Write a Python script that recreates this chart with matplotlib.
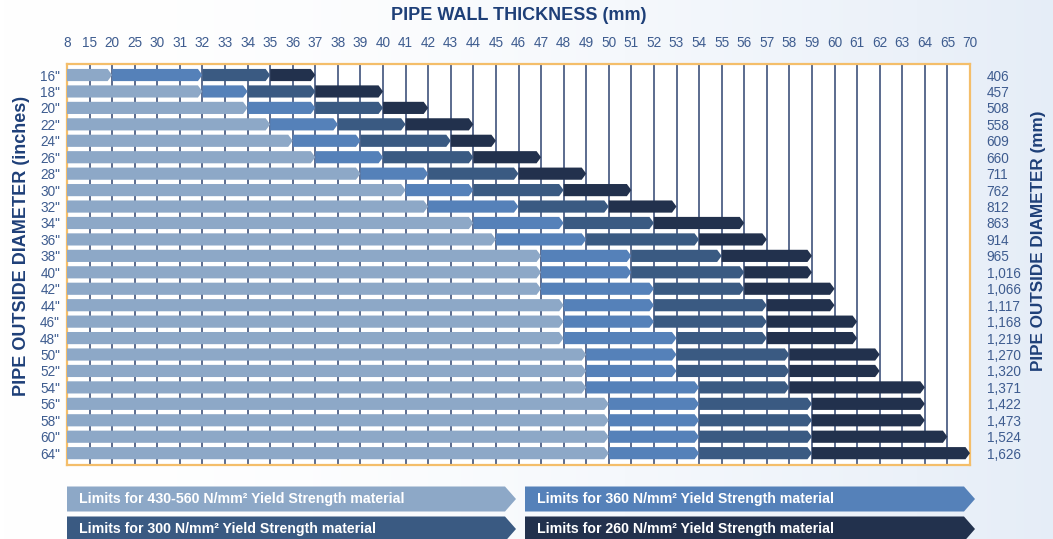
import numpy as np
import matplotlib
matplotlib.use('Agg')
import matplotlib.pyplot as plt
from matplotlib.patches import Polygon

plt.rcParams['font.family'] = ['Liberation Sans', 'DejaVu Sans']

# ── Data ──────────────────────────────────────────────────────────────
# wall thickness axis is categorical: ticks are evenly spaced
thickness_ticks = ['8', '15', '20', '25', '30', '31', '32', '33', '34', '35',
                   '36', '37', '38', '39', '40', '41', '42', '43', '44', '45',
                   '46', '47', '48', '49', '50', '51', '52', '53', '54', '55',
                   '56', '57', '58', '59', '60', '61', '62', '63', '64', '65', '70']
od_inches = ['16"', '18"', '20"', '22"', '24"', '26"', '28"', '30"', '32"', '34"',
             '36"', '38"', '40"', '42"', '44"', '46"', '48"', '50"', '52"', '54"',
             '56"', '58"', '60"', '64"']
od_mm = ['406', '457', '508', '558', '609', '660', '711', '762', '812', '863',
         '914', '965', '1,016', '1,066', '1,117', '1,168', '1,219', '1,270',
         '1,320', '1,371', '1,422', '1,473', '1,524', '1,626']

# max wall thickness (mm) per yield-strength grade, one value per diameter
limit_430_560 = [20, 32, 34, 35, 36, 37, 39, 41, 42, 44, 45, 47, 47, 47, 48, 48,
                 48, 49, 49, 49, 50, 50, 50, 50]
limit_360 = [32, 34, 37, 38, 39, 40, 42, 44, 46, 48, 49, 51, 51, 52, 52, 52,
             53, 53, 53, 54, 54, 54, 54, 54]
limit_300 = [35, 37, 40, 41, 43, 44, 46, 48, 50, 52, 54, 55, 56, 56, 57, 57,
             57, 58, 58, 58, 59, 59, 59, 59]
limit_260 = [37, 40, 42, 44, 45, 47, 49, 51, 53, 56, 57, 59, 59, 60, 60, 61,
             61, 62, 62, 64, 64, 64, 65, 70]
start_thickness = 8

grades = ['Limits for 430-560 N/mm² Yield Strength material',
          'Limits for 360 N/mm² Yield Strength material',
          'Limits for 300 N/mm² Yield Strength material',
          'Limits for 260 N/mm² Yield Strength material']
colors = ['#8DA8C7', '#5581B9', '#3A5A82', '#22314D']

TEXT_BLUE = '#3E5C8F'
TITLE_BLUE = '#1E3F78'
FRAME = '#F4BE6A'
GRID = '#4E6086'

W, H = 1053, 539


def pos(t):
    return thickness_ticks.index(str(t))


def arrow(x0, x1, y, h, tip):
    return [(x0, y - h), (x1 - tip, y - h), (x1, y), (x1 - tip, y + h), (x0, y + h)]


fig = plt.figure(figsize=(W / 100, H / 100), dpi=100)
fig.patch.set_facecolor('white')

# faint bluish backdrop
bg = fig.add_axes([0, 0, 1, 1], zorder=-10)
grad = np.linspace(0, 1, 256) ** 1.8
bg_img = np.ones((2, 256, 3))
tint = np.array([0.90, 0.93, 0.97])
bg_img[:] = (1 - grad[:, None]) * 1.0 + grad[:, None] * tint
bg.imshow(bg_img, aspect='auto', extent=[0, 1, 0, 1])
bg.axis('off')

# ── Main grid ─────────────────────────────────────────────────────────
left, right, top, bottom = 67, 970, 64, 465
ax = fig.add_axes([left / W, 1 - bottom / H, (right - left) / W, (bottom - top) / H])
ax.set_facecolor('white')
n_cols = len(thickness_ticks) - 1
ax.set_xlim(0, n_cols)
ax.set_ylim(len(od_inches) - 0.28, -0.67)

ax.vlines(range(1, n_cols), -1, len(od_inches) + 1, color=GRID, lw=1.3, zorder=1)

series = [limit_430_560, limit_360, limit_300, limit_260]
for r in range(len(od_inches)):
    x_prev = pos(start_thickness)
    for lim, c in zip(series, colors):
        x_end = pos(lim[r])
        ax.add_patch(Polygon(arrow(x_prev, x_end, r, 0.37, 0.2), closed=True,
                             facecolor=c, edgecolor='none', zorder=3))
        x_prev = x_end

for s in ax.spines.values():
    s.set_color(FRAME)
    s.set_linewidth(1.6)

ax.xaxis.tick_top()
ax.set_xticks(range(len(thickness_ticks)))
ax.set_xticklabels(thickness_ticks)
ax.set_yticks(range(len(od_inches)))
ax.set_yticklabels(od_inches)
ax.tick_params(axis='x', length=0, pad=10, labelsize=9.8, labelcolor=TEXT_BLUE)
ax.tick_params(axis='y', length=0, pad=5, labelsize=9.8, labelcolor=TEXT_BLUE)

ax_r = ax.secondary_yaxis('right')
ax_r.set_yticks(range(len(od_mm)))
ax_r.set_yticklabels(od_mm)
ax_r.tick_params(length=0, pad=12, labelsize=9.8, labelcolor=TEXT_BLUE)
for s in ax_r.spines.values():
    s.set_visible(False)

fig.text(519 / W, 1 - 16 / H, 'PIPE WALL THICKNESS (mm)', ha='center', va='center',
         fontsize=13, fontweight='bold', color=TITLE_BLUE)
fig.text(22 / W, 1 - 246 / H, 'PIPE OUTSIDE DIAMETER (inches)', ha='center', va='center',
         rotation=90, fontsize=13, fontweight='bold', color=TITLE_BLUE)
fig.text(1039 / W, 1 - 241 / H, 'PIPE OUTSIDE DIAMETER (mm)', ha='center', va='center',
         rotation=90, fontsize=12.3, fontweight='bold', color=TITLE_BLUE)

# ── Legend banners ────────────────────────────────────────────────────
lax = fig.add_axes([0, 0, 1, 1], zorder=5)
lax.set_xlim(0, W)
lax.set_ylim(H, 0)
lax.axis('off')
slots = [(67, 516, 499), (525, 975, 499), (67, 516, 529), (525, 975, 529)]
for (x0, x1, yc), label, c in zip(slots, grades, colors):
    lax.add_patch(Polygon(arrow(x0, x1, yc, 12.5, 11), closed=True,
                          facecolor=c, edgecolor='none'))
    lax.text(x0 + 12, yc, label, ha='left', va='center', fontsize=10.2,
             fontweight='bold', color='white')

plt.savefig('out.png', dpi=100)
